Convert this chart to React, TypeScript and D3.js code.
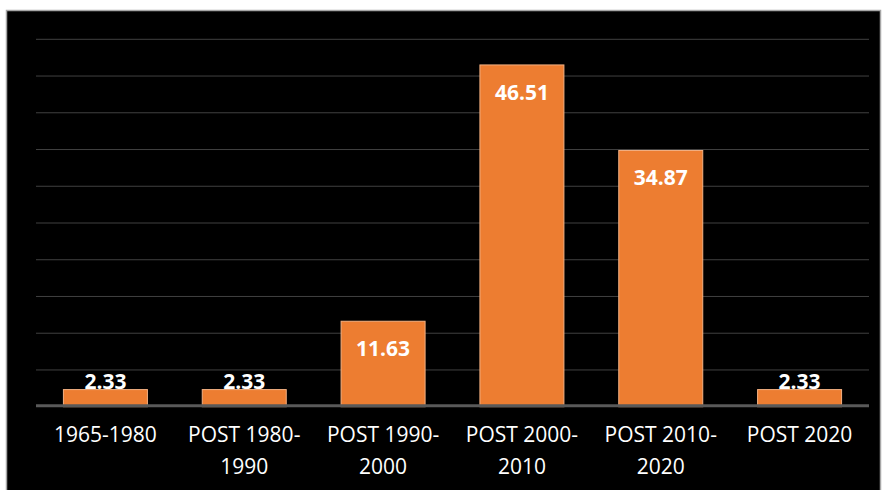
import React from "react";
import * as d3 from "d3";

const categories: string[][] = [
  ["1965-1980"],
  ["POST 1980-", "1990"],
  ["POST 1990-", "2000"],
  ["POST 2000-", "2010"],
  ["POST 2010-", "2020"],
  ["POST 2020"],
];
const values: number[] = [2.33, 2.33, 11.63, 46.51, 34.87, 2.33];
const yTicks: number[] = [0, 5, 10, 15, 20, 25, 30, 35, 40, 45, 50];

const W = 883;
const H = 490;
const plotLeft = 36;
const plotRight = 869;
const plotTop = 39.3;
const plotBottom = 406.7;
const FONT = "'Open Sans', 'Noto Sans', sans-serif";

export default function App() {
  const x = d3
    .scaleBand<number>()
    .domain(d3.range(values.length))
    .range([plotLeft, plotRight])
    .paddingInner(0.395)
    .paddingOuter(0.1975);
  const y = d3.scaleLinear().domain([0, 50]).range([plotBottom, plotTop]);

  return (
    <svg
      width={W}
      height={H}
      style={{ position: "fixed", left: 0, top: 0, display: "block" }}
    >
      <rect x={0} y={0} width={W} height={H} fill="#ffffff" />
      <rect x={6.5} y={10.5} width={874} height={490} fill="#000000" stroke="#a6a6a6" strokeWidth={1.5} />
      {yTicks.slice(1).map((t) => (
        <line
          key={t}
          x1={plotLeft}
          x2={plotRight}
          y1={y(t)}
          y2={y(t)}
          stroke="#404040"
          strokeWidth={1}
        />
      ))}
      {values.map((v, i) => {
        const bx = x(i)!;
        const bw = x.bandwidth();
        const top = y(v);
        const h = plotBottom - top;
        const big = h > 40;
        return (
          <g key={i}>
            <rect
              x={bx}
              y={top}
              width={bw}
              height={h}
              fill="#ED7D31"
              stroke="#F4B183"
              strokeWidth={1}
            />
            <text
              x={bx + bw / 2}
              y={big ? top + 35 : top - 1}
              textAnchor="middle"
              fill="#ffffff"
              fontFamily={FONT}
              fontWeight={700}
              fontSize={21}
            >
              {v.toFixed(2)}
            </text>
          </g>
        );
      })}
      <line
        x1={plotLeft}
        x2={plotRight}
        y1={plotBottom - 1}
        y2={plotBottom - 1}
        stroke="#595959"
        strokeWidth={3}
      />
      {categories.map((lines, i) => (
        <text
          key={i}
          x={x(i)! + x.bandwidth() / 2}
          textAnchor="middle"
          fill="#ffffff"
          fontFamily={FONT}
          fontSize={21}
        >
          {lines.map((l, j) => (
            <tspan key={j} x={x(i)! + x.bandwidth() / 2} y={442 + j * 32}>
              {l}
            </tspan>
          ))}
        </text>
      ))}
    </svg>
  );
}
